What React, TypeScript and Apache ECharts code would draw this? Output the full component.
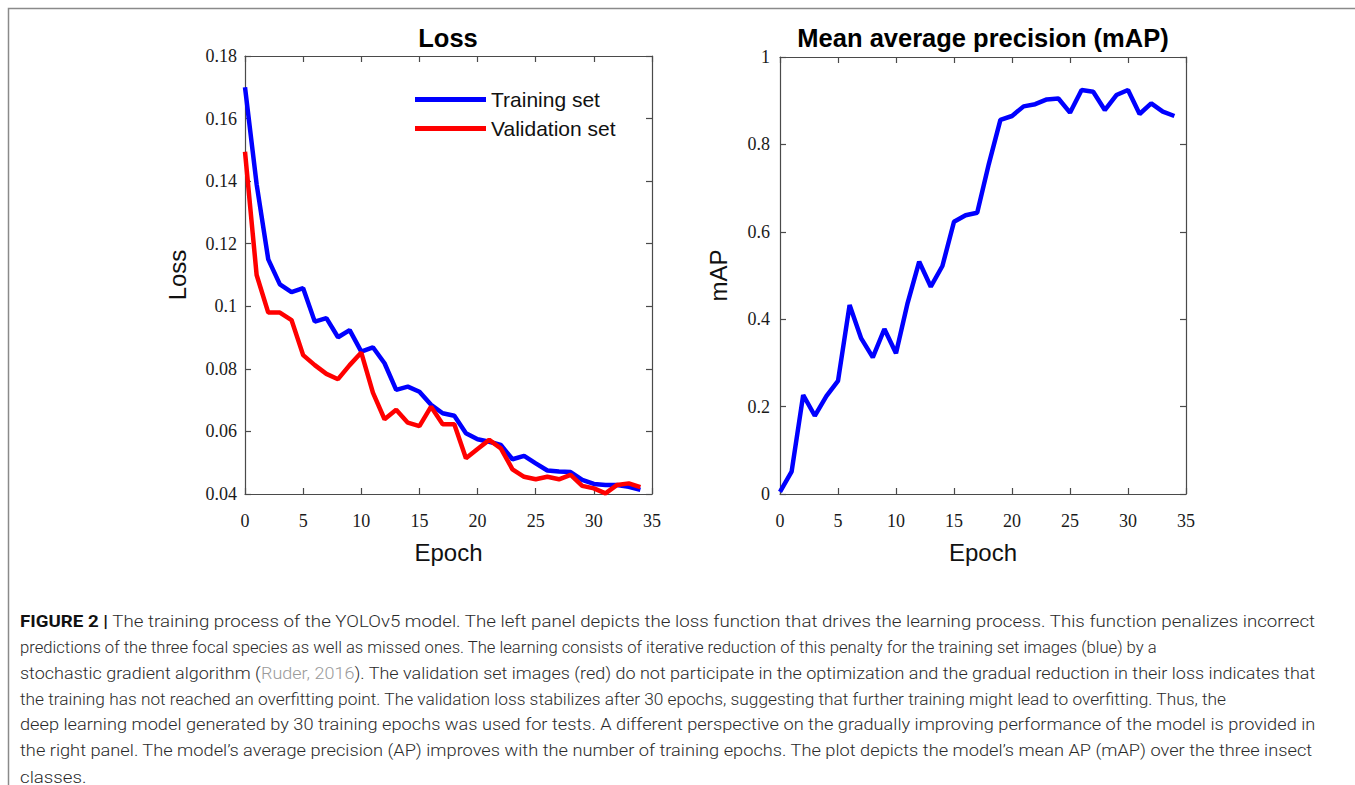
import React, { useEffect, useRef } from "react";
import * as echarts from "echarts";

const epochs = [0, 1, 2, 3, 4, 5, 6, 7, 8, 9, 10, 11, 12, 13, 14, 15, 16, 17, 18, 19, 20, 21, 22, 23, 24, 25, 26, 27, 28, 29, 30, 31, 32, 33, 34];

const trainingLoss = [0.170, 0.139, 0.115, 0.107, 0.1045, 0.1058, 0.0951, 0.0962, 0.0901, 0.0924, 0.0855, 0.0869, 0.0818, 0.0733, 0.0743, 0.0727, 0.0685, 0.0658, 0.0650, 0.0594, 0.0575, 0.0567, 0.0557, 0.0511, 0.0522, 0.0498, 0.0475, 0.0472, 0.0470, 0.0445, 0.0432, 0.0429, 0.0429, 0.0423, 0.0413];

const validationLoss = [0.1494, 0.110, 0.098, 0.098, 0.0956, 0.0844, 0.0812, 0.0784, 0.0767, 0.0812, 0.0852, 0.0724, 0.0639, 0.0669, 0.0628, 0.0617, 0.0679, 0.0623, 0.0623, 0.0514, 0.0544, 0.0573, 0.0546, 0.0479, 0.0455, 0.0447, 0.0455, 0.0447, 0.0461, 0.0426, 0.0418, 0.0402, 0.0429, 0.0434, 0.0422];

const meanAP = [0.005, 0.051, 0.2265, 0.179, 0.224, 0.2586, 0.4325, 0.356, 0.3128, 0.3776, 0.322, 0.437, 0.5316, 0.4744, 0.5217, 0.623, 0.638, 0.6437, 0.755, 0.856, 0.865, 0.887, 0.892, 0.903, 0.905, 0.8726, 0.9245, 0.9206, 0.8787, 0.913, 0.9245, 0.8696, 0.894, 0.875, 0.865];

const seriesNames = ["Training set", "Validation set", "mAP"];
const panelTitles = ["Loss", "Mean average precision (mAP)"];
const axisNames = { x: "Epoch", yLeft: "Loss", yRight: "mAP" };

const captionLines = [
  "{b|FIGURE 2 |} The training process of the YOLOv5 model. The left panel depicts the loss function that drives the learning process. This function penalizes incorrect",
  "predictions of the three focal species as well as missed ones. The learning consists of iterative reduction of this penalty for the training set images (blue) by a",
  "stochastic gradient algorithm ({g|Ruder, 2016}). The validation set images (red) do not participate in the optimization and the gradual reduction in their loss indicates that",
  "the training has not reached an overfitting point. The validation loss stabilizes after 30 epochs, suggesting that further training might lead to overfitting. Thus, the",
  "deep learning model generated by 30 training epochs was used for tests. A different perspective on the gradually improving performance of the model is provided in",
  "the right panel. The model\u2019s average precision (AP) improves with the number of training epochs. The plot depicts the model\u2019s mean AP (mAP) over the three insect",
  "classes.",
];
// right end of each caption line in the reference (0 = use the first line's scale)
const captionRightEdges = [1318, 1158, 1317, 1227, 1316, 1313, 0];

const CAP_FONT = "Roboto";
const CAP_SIZE = 17;
const CAP_LEFT = 20;
const CAP_TOP = 621;
const CAP_LH = 25.9;

const SANS = "'Liberation Sans', Arial, sans-serif";
const TICK_FONT = "'Liberation Serif', serif";
const AXIS_COLOR = "#4a4a4a";

function measureRich(ctx: CanvasRenderingContext2D, line: string): number {
  const re = /\{([a-zA-Z0-9_]+)\|([^}]*)\}/g;
  let total = 0;
  let last = 0;
  let m: RegExpExecArray | null;
  const plain = (t: string) => {
    ctx.font = `300 ${CAP_SIZE}px ${CAP_FONT}`;
    return ctx.measureText(t).width;
  };
  while ((m = re.exec(line))) {
    total += plain(line.slice(last, m.index));
    if (m[1] === "b") {
      ctx.font = `bold ${CAP_SIZE}px ${CAP_FONT}`;
      total += ctx.measureText(m[2]).width;
    } else {
      total += plain(m[2]);
    }
    last = m.index + m[0].length;
  }
  total += plain(line.slice(last));
  return total;
}

export default function App() {
  const ref = useRef<HTMLDivElement>(null);

  useEffect(() => {
    if (!ref.current) return;
    const chart = echarts.init(ref.current, undefined, { renderer: "svg" });
    const canvas = document.createElement("canvas");
    const ctx = canvas.getContext("2d")!;

    const natural1 = measureRich(ctx, captionLines[0]);
    const baseScale = natural1 > 0 ? (captionRightEdges[0] - CAP_LEFT) / natural1 : 1;

    const captionGraphics = captionLines.map((line, i) => {
      const edge = captionRightEdges[i];
      const nat = measureRich(ctx, line);
      const sx = edge > 0 && nat > 0 ? (edge - CAP_LEFT) / nat : baseScale;
      return {
        type: "text",
        x: CAP_LEFT,
        y: CAP_TOP + i * CAP_LH,
        scaleX: sx,
        style: {
          text: line,
          fontFamily: CAP_FONT,
          fontSize: CAP_SIZE,
          fontWeight: 300,
          fill: "#2a2a2a",
          verticalAlign: "middle",
          align: "left",
          rich: {
            b: { fontFamily: CAP_FONT, fontSize: CAP_SIZE, fontWeight: "bold", fill: "#111" },
            g: { fontFamily: CAP_FONT, fontSize: CAP_SIZE, fontWeight: 300, fill: "#9a9a9a" },
          },
        },
      };
    });

    const tickLabel = (margin: number) => ({
      fontFamily: TICK_FONT,
      fontSize: 18,
      color: "#1a1a1a",
      margin,
    });
    const axisLine = { show: true, onZero: false, lineStyle: { color: AXIS_COLOR, width: 1.2 } };
    const axisTick = { show: true, inside: true, length: 6, lineStyle: { color: AXIS_COLOR, width: 1.2 } };

    const xAxisBase = (grid: number) => ({
      gridIndex: grid,
      type: "value",
      min: 0,
      max: 35,
      interval: 5,
      position: "bottom",
      axisLine,
      axisTick,
      splitLine: { show: false },
      axisLabel: tickLabel(18),
      name: axisNames.x,
      nameLocation: "middle",
      nameGap: 46,
      nameTextStyle: { fontFamily: SANS, fontSize: 24, color: "#111" },
    });
    const xAxisTop = (grid: number) => ({
      gridIndex: grid,
      type: "value",
      min: 0,
      max: 35,
      interval: 5,
      position: "top",
      axisLine,
      axisTick,
      splitLine: { show: false },
      axisLabel: { show: false },
    });

    const lossFmt = (v: number) => String(Math.round(v * 100) / 100);
    const apFmt = (v: number) => String(Math.round(v * 10) / 10);

    chart.setOption({
      animation: false,
      backgroundColor: "#ffffff",
      grid: [
        { left: 245, top: 56, width: 407, height: 438 },
        { left: 780, top: 57, width: 406, height: 437 },
      ],
      xAxis: [xAxisBase(0), xAxisTop(0), xAxisBase(1), xAxisTop(1)],
      yAxis: [
        {
          gridIndex: 0,
          type: "value",
          min: 0.04,
          max: 0.18,
          interval: 0.02,
          position: "left",
          axisLine,
          axisTick,
          splitLine: { show: false },
          axisLabel: { ...tickLabel(8), formatter: lossFmt },
          name: axisNames.yLeft,
          nameLocation: "middle",
          nameGap: 56,
          nameRotate: 90,
          nameTextStyle: { fontFamily: SANS, fontSize: 24, color: "#111" },
        },
        {
          gridIndex: 0,
          type: "value",
          min: 0.04,
          max: 0.18,
          interval: 0.02,
          position: "right",
          axisLine,
          axisTick,
          splitLine: { show: false },
          axisLabel: { show: false },
        },
        {
          gridIndex: 1,
          type: "value",
          min: 0,
          max: 1,
          interval: 0.2,
          position: "left",
          axisLine,
          axisTick,
          splitLine: { show: false },
          axisLabel: { ...tickLabel(10), formatter: apFmt },
          name: axisNames.yRight,
          nameLocation: "middle",
          nameGap: 50,
          nameRotate: 90,
          nameTextStyle: { fontFamily: SANS, fontSize: 24, color: "#111" },
        },
        {
          gridIndex: 1,
          type: "value",
          min: 0,
          max: 1,
          interval: 0.2,
          position: "right",
          axisLine,
          axisTick,
          splitLine: { show: false },
          axisLabel: { show: false },
        },
      ],
      legend: {
        data: [seriesNames[0], seriesNames[1]],
        orient: "vertical",
        left: 410,
        top: 84,
        icon: "rect",
        itemWidth: 71,
        itemHeight: 5,
        itemGap: 8,
        textStyle: { fontFamily: SANS, fontSize: 21, color: "#111" },
      },
      series: [
        {
          name: seriesNames[0],
          type: "line",
          xAxisIndex: 0,
          yAxisIndex: 0,
          data: epochs.map((e, i) => [e, trainingLoss[i]]),
          symbol: "none",
          lineStyle: { color: "#0000ff", width: 4.5 },
          itemStyle: { color: "#0000ff" },
          z: 3,
        },
        {
          name: seriesNames[1],
          type: "line",
          xAxisIndex: 0,
          yAxisIndex: 0,
          data: epochs.map((e, i) => [e, validationLoss[i]]),
          symbol: "none",
          lineStyle: { color: "#ff0000", width: 4.5 },
          itemStyle: { color: "#ff0000" },
          z: 4,
        },
        {
          name: seriesNames[2],
          type: "line",
          xAxisIndex: 2,
          yAxisIndex: 2,
          data: epochs.map((e, i) => [e, meanAP[i]]),
          symbol: "none",
          lineStyle: { color: "#0000ff", width: 4.5 },
          itemStyle: { color: "#0000ff" },
        },
      ],
      graphic: [
        {
          type: "rect",
          shape: { x: 8.5, y: 8.5, width: 1400, height: 900 },
          style: { fill: "none", stroke: "#8a8a8a", lineWidth: 1.5 },
          silent: true,
        },
        {
          type: "text",
          x: 448,
          y: 38,
          style: {
            text: panelTitles[0],
            fontFamily: SANS,
            fontSize: 25.5,
            fontWeight: "bold",
            fill: "#000",
            align: "center",
            verticalAlign: "middle",
          },
        },
        {
          type: "text",
          x: 983,
          y: 38,
          style: {
            text: panelTitles[1],
            fontFamily: SANS,
            fontSize: 25.5,
            fontWeight: "bold",
            fill: "#000",
            align: "center",
            verticalAlign: "middle",
          },
        },
        ...captionGraphics,
      ],
    });

    return () => chart.dispose();
  }, []);

  return (
    <div
      ref={ref}
      style={{ position: "fixed", left: 0, top: 0, width: 1355, height: 785, background: "#fff" }}
    />
  );
}
